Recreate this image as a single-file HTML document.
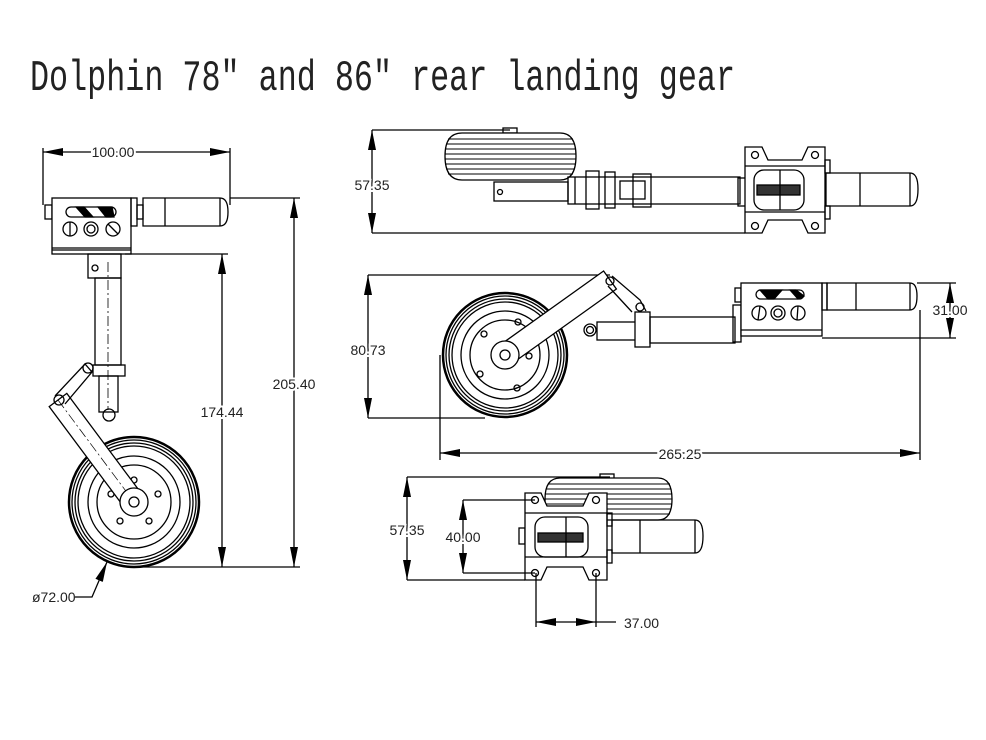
<!DOCTYPE html>
<html><head><meta charset="utf-8"><style>
html,body{margin:0;padding:0;background:#fff;}
svg{display:block}
text{font-family:"Liberation Sans",sans-serif;fill:#222}
</style></head><body>
<svg width="986" height="740" viewBox="0 0 986 740" xmlns="http://www.w3.org/2000/svg">
<defs>
<marker id="a" viewBox="0 0 20 8" refX="20" refY="4" markerWidth="20" markerHeight="8" orient="auto-start-reverse" markerUnits="userSpaceOnUse"><path d="M0,0 L20,4 L0,8 Z" fill="#000"/></marker>
</defs>
<rect width="986" height="740" fill="#fff"/>
<text x="30" y="90" font-size="44" textLength="705" lengthAdjust="spacingAndGlyphs" style="font-family:'Liberation Mono',monospace" fill="#000">Dolphin 78″ and 86″ rear landing gear</text>

<g fill="none" stroke="#000" stroke-width="1.3">
<!-- ===== LEFT VIEW ===== -->
<line x1="43" y1="148" x2="43" y2="205"/><line x1="230" y1="148" x2="230" y2="205"/>
<line x1="43" y1="152" x2="230" y2="152" marker-start="url(#a)" marker-end="url(#a)"/>
<rect x="45" y="205" width="7" height="14"/>
<rect x="52" y="198" width="79" height="56" fill="#fff"/>
<line x1="52" y1="248" x2="131" y2="248"/>
<line x1="52" y1="250" x2="131" y2="250"/>
<rect x="131" y="198" width="6" height="28"/>
<rect x="137" y="205" width="6" height="14"/>
<path d="M143,198 H220 Q228,198 228,212 Q228,226 220,226 H143 Z"/>
<line x1="165" y1="198" x2="165" y2="226"/>
<line x1="220" y1="198" x2="220" y2="226"/>
<rect x="66" y="207" width="50" height="10" rx="5"/>
<path d="M76,207 L85,217 L93,217 L84,207Z M98,207 L106,217 L114,217 L112,207Z" fill="#000"/>
<circle cx="70" cy="229" r="7"/><line x1="70" y1="222" x2="70" y2="236"/>
<circle cx="91" cy="229" r="7"/><circle cx="91" cy="229" r="4"/>
<circle cx="113" cy="229" r="7"/><line x1="108" y1="224" x2="118" y2="234"/>
<rect x="88" y="254" width="33" height="24"/>
<circle cx="95" cy="268" r="3"/>
<rect x="95" y="278" width="26" height="87"/>
<rect x="93" y="365" width="32" height="11"/>
<rect x="99" y="376" width="19" height="36"/>
<line x1="108" y1="262" x2="108" y2="410" stroke-dasharray="10,3,2,3" stroke-width="0.8"/>
<circle cx="109" cy="415" r="6"/>
<!-- wheel -->
<circle cx="134" cy="502" r="65" stroke-width="2.5"/>
<circle cx="134" cy="502" r="62"/>
<circle cx="134" cy="502" r="59"/>
<circle cx="134" cy="502" r="56"/>
<circle cx="134" cy="502" r="46"/>
<circle cx="134" cy="502" r="37"/>
<circle cx="134" cy="480" r="3"/><circle cx="111" cy="494" r="3"/><circle cx="158" cy="494" r="3"/>
<circle cx="120" cy="521" r="3"/><circle cx="149" cy="521" r="3"/>
<!-- arm -->
<path d="M66.8,393.4 L142.8,495.4 L125.2,508.6 L49.2,406.6 Z" fill="#fff"/>
<line x1="58" y1="400" x2="134" y2="502" stroke-dasharray="10,3,2,3" stroke-width="0.7"/>
<circle cx="134" cy="502" r="14" fill="#fff"/><circle cx="134" cy="502" r="5"/>
<path d="M55,396 L85,364 L92,372 L65,404"/>
<circle cx="88" cy="368" r="5"/><circle cx="59" cy="400" r="5"/>
<!-- dims -->
<line x1="125" y1="254" x2="228" y2="254"/>
<line x1="222" y1="254" x2="222" y2="567" marker-start="url(#a)" marker-end="url(#a)"/>
<line x1="230" y1="198" x2="300" y2="198"/>
<line x1="134" y1="567" x2="300" y2="567"/>
<line x1="294" y1="198" x2="294" y2="567" marker-start="url(#a)" marker-end="url(#a)"/>
<polyline points="75,597 92,597 107,562" marker-end="url(#a)"/>

<!-- ===== TOP VIEW ===== -->
<line x1="372" y1="130" x2="510" y2="130"/>
<line x1="372" y1="233" x2="745" y2="233"/>
<line x1="372" y1="130" x2="372" y2="233" marker-start="url(#a)" marker-end="url(#a)"/>
<rect x="503" y="128" width="14" height="5"/>
<path d="M462,133 H560 Q576,133 576,156 Q576,180 560,180 H462 Q445,180 445,156 Q445,133 462,133Z" fill="#fff"/>
<g stroke-width="1">
<line x1="448" y1="139" x2="573" y2="139"/><line x1="446" y1="144" x2="575" y2="144"/>
<line x1="445" y1="149" x2="576" y2="149"/><line x1="445" y1="154" x2="576" y2="154"/>
<line x1="445" y1="159" x2="576" y2="159"/><line x1="445" y1="164" x2="576" y2="164"/>
<line x1="446" y1="169" x2="575" y2="169"/><line x1="448" y1="174" x2="573" y2="174"/>
</g>
<rect x="494" y="182" width="74" height="19"/>
<circle cx="500" cy="192" r="2.5"/>
<rect x="568" y="177" width="172" height="27"/>
<line x1="575" y1="177" x2="575" y2="204"/>
<rect x="586" y="171" width="13" height="38"/>
<rect x="605" y="172" width="10" height="36"/>
<rect x="620" y="181" width="25" height="18"/>
<rect x="633" y="174" width="18" height="33"/>
<rect x="738" y="178" width="8" height="28"/>
<path d="M745,147 H762 L768,160 H802 L808,147 H825 V233 H808 L802,220 H768 L762,233 H745 Z" fill="#fff"/>
<line x1="745" y1="166" x2="825" y2="166"/><line x1="745" y1="212" x2="825" y2="212"/>
<rect x="754" y="170" width="50" height="40" rx="10"/>
<rect x="757" y="185" width="43" height="10" fill="#333"/>
<line x1="780" y1="170" x2="780" y2="210"/>
<circle cx="755" cy="155" r="3.5"/><circle cx="815" cy="155" r="3.5"/>
<circle cx="755" cy="226" r="3.5"/><circle cx="815" cy="226" r="3.5"/>
<rect x="825" y="160" width="5" height="13"/><rect x="825" y="206" width="5" height="13"/>
<path d="M826,173 H910 Q918,173 918,189 Q918,206 910,206 H826 Z"/>
<line x1="860" y1="173" x2="860" y2="206"/>
<line x1="910" y1="173" x2="910" y2="206"/>

<!-- ===== SIDE VIEW ===== -->
<line x1="368" y1="275" x2="610" y2="275"/>
<line x1="368" y1="418" x2="485" y2="418"/>
<line x1="368" y1="275" x2="368" y2="418" marker-start="url(#a)" marker-end="url(#a)"/>
<circle cx="505" cy="355" r="62" stroke-width="2.5"/>
<circle cx="505" cy="355" r="59"/>
<circle cx="505" cy="355" r="56"/>
<circle cx="505" cy="355" r="53"/>
<circle cx="505" cy="355" r="44"/>
<circle cx="505" cy="355" r="35"/>
<circle cx="484" cy="334" r="3"/><circle cx="518" cy="322" r="3"/><circle cx="529" cy="356" r="3"/>
<circle cx="517" cy="388" r="3"/><circle cx="480" cy="374" r="3"/>
<rect x="597" y="322" width="40" height="18"/>
<circle cx="590" cy="330" r="6"/><circle cx="590" cy="330" r="3.5"/>
<path d="M498.6,346 L603.6,271 L616.4,289 L511.4,364 Z" fill="#fff"/>
<circle cx="505" cy="355" r="14" fill="#fff"/><circle cx="505" cy="355" r="5"/>
<path d="M612,276 L640,300 L646,311 M608,286 L632,312"/>
<circle cx="610" cy="281" r="4"/><circle cx="640" cy="307" r="4"/>
<rect x="635" y="312" width="15" height="35" fill="#fff"/>
<rect x="650" y="317" width="85" height="26"/>
<rect x="733" y="305" width="8" height="37"/>
<rect x="735" y="288" width="6" height="14"/>
<rect x="741" y="283" width="81" height="53" fill="#fff"/>
<line x1="741" y1="330" x2="822" y2="330"/>
<rect x="756" y="290" width="48" height="9" rx="4.5"/>
<path d="M760,290 L768,299 L774,299 L782,290Z M790,290 L798,299 L804,296 L796,290Z" fill="#000"/>
<circle cx="759" cy="313" r="7"/><line x1="760" y1="306" x2="758" y2="320"/>
<circle cx="778" cy="313" r="7"/><circle cx="778" cy="313" r="4"/>
<circle cx="798" cy="313" r="7"/><line x1="798" y1="306" x2="797" y2="320"/>
<rect x="822" y="283" width="5" height="27"/>
<path d="M827,283 H910 Q917,283 917,296 Q917,310 910,310 H827 Z"/>
<line x1="856" y1="283" x2="856" y2="310"/>
<line x1="910" y1="283" x2="910" y2="310"/>
<line x1="917" y1="283" x2="956" y2="283"/>
<line x1="822" y1="338" x2="956" y2="338"/>
<line x1="950" y1="283" x2="950" y2="338" marker-start="url(#a)" marker-end="url(#a)"/>
<line x1="440" y1="355" x2="440" y2="460"/>
<line x1="920" y1="310" x2="920" y2="460"/>
<line x1="440" y1="453" x2="920" y2="453" marker-start="url(#a)" marker-end="url(#a)"/>

<!-- ===== BOTTOM VIEW ===== -->
<line x1="407" y1="477" x2="610" y2="477"/>
<line x1="407" y1="580" x2="525" y2="580"/>
<line x1="407" y1="477" x2="407" y2="580" marker-start="url(#a)" marker-end="url(#a)"/>
<rect x="600" y="474" width="14" height="5"/>
<path d="M560,478 H658 Q672,478 672,499 Q672,520 658,520 H560 Q545,520 545,499 Q545,478 560,478Z" fill="#fff"/>
<g stroke-width="1">
<line x1="548" y1="484" x2="670" y2="484"/><line x1="546" y1="489" x2="671" y2="489"/>
<line x1="545" y1="494" x2="672" y2="494"/><line x1="545" y1="499" x2="672" y2="499"/>
<line x1="545" y1="504" x2="672" y2="504"/><line x1="546" y1="509" x2="671" y2="509"/>
<line x1="548" y1="514" x2="670" y2="514"/>
</g>
<rect x="519" y="528" width="6" height="16"/>
<path d="M525,493 H541 L547,506 H583 L589,493 H607 V580 H589 L583,567 H547 L541,580 H525 Z" fill="#fff"/>
<line x1="525" y1="513" x2="607" y2="513"/><line x1="525" y1="557" x2="607" y2="557"/>
<rect x="535" y="517" width="53" height="40" rx="10"/>
<rect x="538" y="533" width="45" height="9" fill="#333"/>
<line x1="566" y1="517" x2="566" y2="557"/>
<circle cx="535" cy="500" r="3.5"/><circle cx="596" cy="500" r="3.5"/>
<circle cx="535" cy="573" r="3.5"/><circle cx="596" cy="573" r="3.5"/>
<rect x="607" y="513" width="5" height="13"/><rect x="607" y="550" width="5" height="13"/>
<path d="M612,520 H695 Q703,520 703,536 Q703,553 695,553 H612 Z"/>
<line x1="640" y1="520" x2="640" y2="553"/>
<line x1="695" y1="520" x2="695" y2="553"/>
<line x1="463" y1="500" x2="535" y2="500"/>
<line x1="463" y1="573" x2="535" y2="573"/>
<line x1="463" y1="500" x2="463" y2="573" marker-start="url(#a)" marker-end="url(#a)"/>
<line x1="536" y1="573" x2="536" y2="627"/>
<line x1="596" y1="573" x2="596" y2="627"/>
<line x1="536" y1="622" x2="596" y2="622" marker-start="url(#a)" marker-end="url(#a)"/>
<line x1="596" y1="622" x2="616" y2="622"/>
</g>

<g font-size="14">
<text x="113" y="157" text-anchor="middle" fill="#333" style="paint-order:stroke" stroke="#fff" stroke-width="4">100.00</text>
<text x="222" y="417" text-anchor="middle" stroke="#fff" stroke-width="4" style="paint-order:stroke">174.44</text>
<text x="294" y="389" text-anchor="middle" stroke="#fff" stroke-width="4" style="paint-order:stroke">205.40</text>
<text x="32" y="602">ø72.00</text>
<text x="372" y="190" text-anchor="middle" stroke="#fff" stroke-width="4" style="paint-order:stroke">57.35</text>
<text x="368" y="355" text-anchor="middle" stroke="#fff" stroke-width="4" style="paint-order:stroke">80.73</text>
<text x="950" y="315" text-anchor="middle" stroke="#fff" stroke-width="4" style="paint-order:stroke">31.00</text>
<text x="680" y="459" text-anchor="middle" stroke="#fff" stroke-width="4" style="paint-order:stroke">265.25</text>
<text x="407" y="535" text-anchor="middle" stroke="#fff" stroke-width="4" style="paint-order:stroke">57.35</text>
<text x="463" y="542" text-anchor="middle" stroke="#fff" stroke-width="4" style="paint-order:stroke">40.00</text>
<text x="624" y="628">37.00</text>
</g>
</svg>
</body></html>
